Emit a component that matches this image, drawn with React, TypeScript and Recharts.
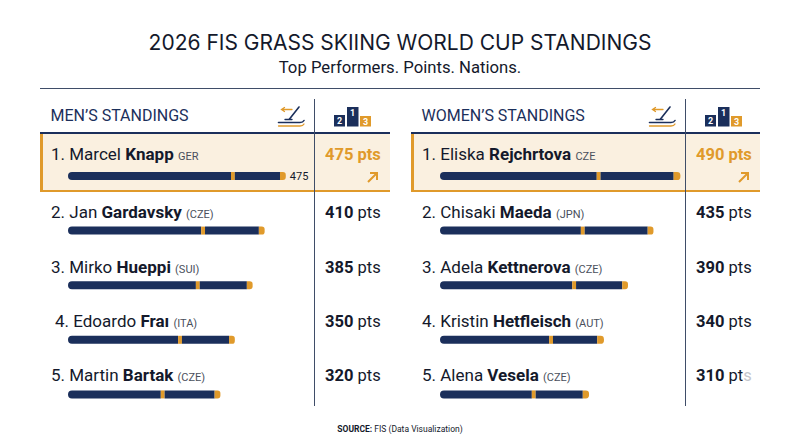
import React from 'react';
import { BarChart, Bar, XAxis, YAxis, LabelList } from 'recharts';

const NAVY = '#1b2f5b';
const GOLD = '#e09a2b';
const INK = '#14192b';

const menFirst = ['Marcel', 'Jan', 'Mirko', 'Edoardo', 'Martin'];
const menLast = ['Knapp', 'Gardavsky', 'Hueppi', 'Fraı', 'Bartak'];
const menNation = ['GER', '(CZE)', '(SUI)', '(ITA)', '(CZE)'];
const menPoints = [475, 410, 385, 350, 320];
// bar pieces in points
const menLead = [339, 277, 266, 229, 193];
const menMark = [8, 8, 8, 8, 8];
const menTail = [94, 112, 98, 98, 104];
const menCap = [12, 12, 12, 12, 12];

const womenFirst = ['Eliska', 'Chisaki', 'Adela', 'Kristin', 'Alena'];
const womenLast = ['Rejchrtova', 'Maeda', 'Kettnerova', 'Hetfleisch', 'Vesela'];
const womenNation = ['CZE', '(JPN)', '(CZE)', '(AUT)', '(CZE)'];
const womenPoints = [490, 435, 390, 340, 310];
const womenLead = [326, 293, 275, 227, 191];
const womenMark = [8, 8, 8, 8, 8];
const womenTail = [152, 131, 96, 92, 98];
const womenCap = [14, 12, 12, 14, 13];

const baselines = [160, 218, 273, 327, 381];

function StandingBars({ left, points, lead, mark, tail, cap, showValue }: any) {
  const rows = points.map((p: number, i: number) => ({
    rank: i + 1,
    points: p,
    lead: lead[i],
    mark: mark[i],
    tail: tail[i],
    cap: cap[i],
  }));
  return (
    <div style={{ position: 'absolute', left, top: 149, width: 250, height: 273 }}>
      <BarChart
        width={250}
        height={273}
        data={rows}
        layout="vertical"
        margin={{ top: 0, right: 0, bottom: 0, left: 0 }}
        barCategoryGap={0}
        barSize={8}
      >
        <XAxis type="number" domain={[0, 520]} hide />
        <YAxis type="category" dataKey="rank" hide />
        <Bar dataKey="lead" stackId="a" fill={NAVY} radius={[4, 0, 0, 4]} isAnimationActive={false} />
        <Bar dataKey="mark" stackId="a" fill={GOLD} isAnimationActive={false} />
        <Bar dataKey="tail" stackId="a" fill={NAVY} isAnimationActive={false} />
        <Bar dataKey="cap" stackId="a" fill={GOLD} radius={[0, 4, 4, 0]} isAnimationActive={false}>
          {showValue && (
            <LabelList
              dataKey="points"
              content={(p: any) =>
                p.index === 0 ? (
                  <text
                    x={p.x + p.width + 4}
                    y={p.y + 8}
                    fontFamily="Roboto"
                    fontSize={11}
                    fill={INK}
                  >
                    {p.value}
                  </text>
                ) : null
              }
            />
          )}
        </Bar>
      </BarChart>
    </div>
  );
}

function SkierIcon({ dx }: { dx: number }) {
  return (
    <g transform={`translate(${dx},0)`} fill="none" strokeLinecap="round">
      <path d="M282 109.5H292M284.5 107.5L281.5 109.5L284.5 111.5" stroke={GOLD} strokeWidth={1.3} />
      <path d="M299 107L289.5 119" stroke={NAVY} strokeWidth={1.6} />
      <path d="M285 119.5H292" stroke={NAVY} strokeWidth={1.3} />
      <path d="M278.5 122.5H300C302 122.5 303.5 121.5 304 120.5" stroke={NAVY} strokeWidth={1.6} />
      <path d="M278.5 126H300C302 126 303.5 125 304 124" stroke={GOLD} strokeWidth={1.3} />
    </g>
  );
}

function Podium({ dx }: { dx: number }) {
  const num = { fill: '#fff', fontFamily: 'Roboto', fontSize: 9, fontWeight: 700, textAnchor: 'middle' as const };
  return (
    <g transform={`translate(${dx},0)`}>
      <rect x={334} y={115} width={11} height={11.5} fill={NAVY} />
      <rect x={347} y={107} width={11.5} height={19.5} fill={NAVY} />
      <rect x={360} y={116} width={11} height={10.5} fill={GOLD} />
      <text x={339.5} y={124} {...num}>2</text>
      <text x={352.7} y={115.5} {...num}>1</text>
      <text x={365.5} y={124.5} {...num}>3</text>
    </g>
  );
}

function Panel({ dx, title, first, last, nation, points, ranksX, lastFade }: any) {
  return (
    <g>
      <text x={50.5 + dx} y={121} fontFamily="Roboto" fontSize={16} fill={NAVY}>{title}</text>
      <rect x={40 + dx} y={134} width={350 - (dx ? 1 : 0)} height={58} fill="#faf0e0" />
      <rect x={40 + dx} y={134} width={3} height={58} fill={GOLD} />
      <rect x={40 + dx} y={190} width={350 - (dx ? 1 : 0)} height={2} fill={GOLD} />
      <rect x={40 + dx} y={132} width={350 - (dx ? 1 : 0)} height={2} fill={NAVY} />
      <line x1={314.5 + dx} x2={314.5 + dx} y1={99} y2={406} stroke="#3f4d68" strokeWidth={1} />
      <SkierIcon dx={dx} />
      <Podium dx={dx} />
      {first.map((name: string, i: number) => (
        <text key={name} x={ranksX[i] + dx} y={baselines[i]} fontFamily="Roboto" fontSize={17} fill={INK}>
          {i + 1}. {name} <tspan fontWeight={700}>{last[i]}</tspan>{' '}
          <tspan fontSize={11} fill="#4a4f5c">{nation[i]}</tspan>
        </text>
      ))}
      {points.map((p: number, i: number) =>
        i === 0 ? (
          <text key={p} x={325 + dx} y={baselines[i]} fontFamily="Roboto" fontSize={16.5} fontWeight={700} fill={GOLD}>
            {p} pts
          </text>
        ) : (
          <text key={p} x={325 + dx} y={baselines[i]} fontFamily="Roboto" fontSize={16.5} fill={INK}>
            <tspan fontWeight={700}>{p}</tspan> pt
            <tspan fill={lastFade && i === 4 ? '#c4c6cb' : INK}>s</tspan>
          </text>
        ),
      )}
      <path
        d={`M${368 + dx} 182L${377 + dx} 173M${370 + dx} 173H${377 + dx}V${180}`}
        fill="none"
        stroke={GOLD}
        strokeWidth={2}
      />
    </g>
  );
}

export default function App() {
  return (
    <div style={{ position: 'absolute', left: 0, top: 0, width: 800, height: 447, background: '#fff', overflow: 'hidden' }}>
      <svg width={800} height={447} style={{ position: 'absolute', left: 0, top: 0 }}>
        <text x={400} y={50} textAnchor="middle" fontFamily="Inter" fontSize={21} fontWeight={400} fill={INK}>
          2026 FIS GRASS SKIING WORLD CUP STANDINGS
        </text>
        <text x={400} y={73} textAnchor="middle" fontFamily="Roboto" fontSize={16.7} fill={INK}>
          Top Performers. Points. Nations.
        </text>
        <line x1={40} x2={760} y1={88.5} y2={88.5} stroke="#3f4d68" strokeWidth={1} />
        <Panel
          dx={0}
          title="MEN’S STANDINGS"
          first={menFirst}
          last={menLast}
          nation={menNation}
          points={menPoints}
          ranksX={[51, 51, 51, 55, 51]}
        />
        <Panel
          dx={371}
          title="WOMEN’S STANDINGS"
          first={womenFirst}
          last={womenLast}
          nation={womenNation}
          points={womenPoints}
          ranksX={[51, 51, 51, 51, 51]}
          lastFade
        />
        <text x={400} y={432} textAnchor="middle" fontFamily="Roboto" fontSize={8.5} fill={INK}>
          <tspan fontWeight={700}>SOURCE:</tspan> FIS (Data Visualization)
        </text>
      </svg>
      <StandingBars left={68} points={menPoints} lead={menLead} mark={menMark} tail={menTail} cap={menCap} showValue />
      <StandingBars left={440} points={womenPoints} lead={womenLead} mark={womenMark} tail={womenTail} cap={womenCap} />
    </div>
  );
}
